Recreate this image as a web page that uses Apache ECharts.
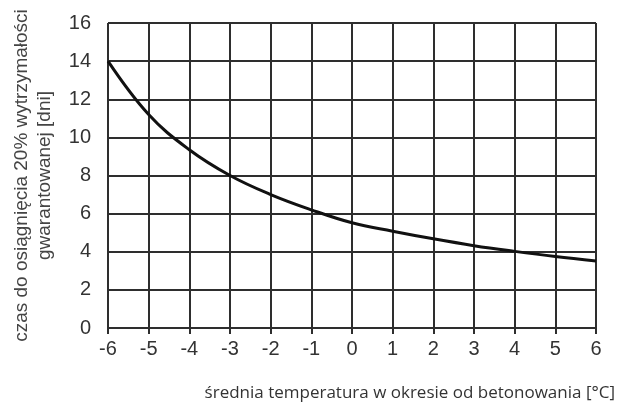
<!DOCTYPE html>
<html>
<head>
<meta charset="utf-8">
<script src="https://cdn.jsdelivr.net/npm/echarts@6/dist/echarts.min.js"></script>
<style>
html,body{margin:0;padding:0;background:#fff;}
#c{width:620px;height:403px;}
</style>
</head>
<body>
<div id="c"></div>
<script>
const temperatures = [-6, -5, -4, -3, -2, -1, 0, 1, 2, 3, 4, 5, 6];
const days = [14.0, 11.2, 9.35, 8.0, 7.0, 6.2, 5.52, 5.08, 4.68, 4.32, 4.02, 3.75, 3.52];
const xAxisTitle = 'średnia temperatura w okresie od betonowania [°C]';
const yAxisTitle = 'czas do osiągnięcia 20% wytrzymałości\ngwarantowanej [dni]';

const chart = echarts.init(document.getElementById('c'), null, {renderer: 'canvas'});
const lineCol = '#2e2e2e';
chart.setOption({
  animation: false,
  backgroundColor: '#ffffff',
  grid: {left: 108, right: 24, top: 23, bottom: 75, containLabel: false, outerBoundsMode: 'none'},
  title: {
    text: xAxisTitle,
    right: 0, top: 380,
    textStyle: {fontFamily: 'Open Sans', fontSize: 17, fontWeight: 'normal', color: '#333'}
  },
  xAxis: {
    type: 'value', min: -6, max: 6, interval: 1,
    axisLine: {show: true, onZero: false, lineStyle: {color: lineCol, width: 2}},
    axisTick: {show: true, length: 6, lineStyle: {color: lineCol, width: 2}},
    axisLabel: {color: '#333', fontFamily: 'Liberation Sans', fontSize: 20, margin: 11},
    splitLine: {show: true, lineStyle: {color: lineCol, width: 2}}
  },
  yAxis: {
    type: 'value', min: 0, max: 16, interval: 2,
    name: yAxisTitle, nameLocation: 'middle', nameGap: 52, nameRotate: 90,
    nameTextStyle: {color: '#444', fontFamily: 'Liberation Sans', fontSize: 19, lineHeight: 23},
    axisLine: {show: true, lineStyle: {color: lineCol, width: 2}},
    axisTick: {show: true, length: 6, lineStyle: {color: lineCol, width: 2}},
    axisLabel: {color: '#333', fontFamily: 'Liberation Sans', fontSize: 20, margin: 17},
    splitLine: {show: true, lineStyle: {color: lineCol, width: 2}}
  },
  series: [{
    type: 'line',
    data: temperatures.map((t, i) => [t, days[i]]),
    smooth: 0.4,
    showSymbol: false,
    lineStyle: {color: '#111', width: 3}
  }]
});
</script>
</body>
</html>
